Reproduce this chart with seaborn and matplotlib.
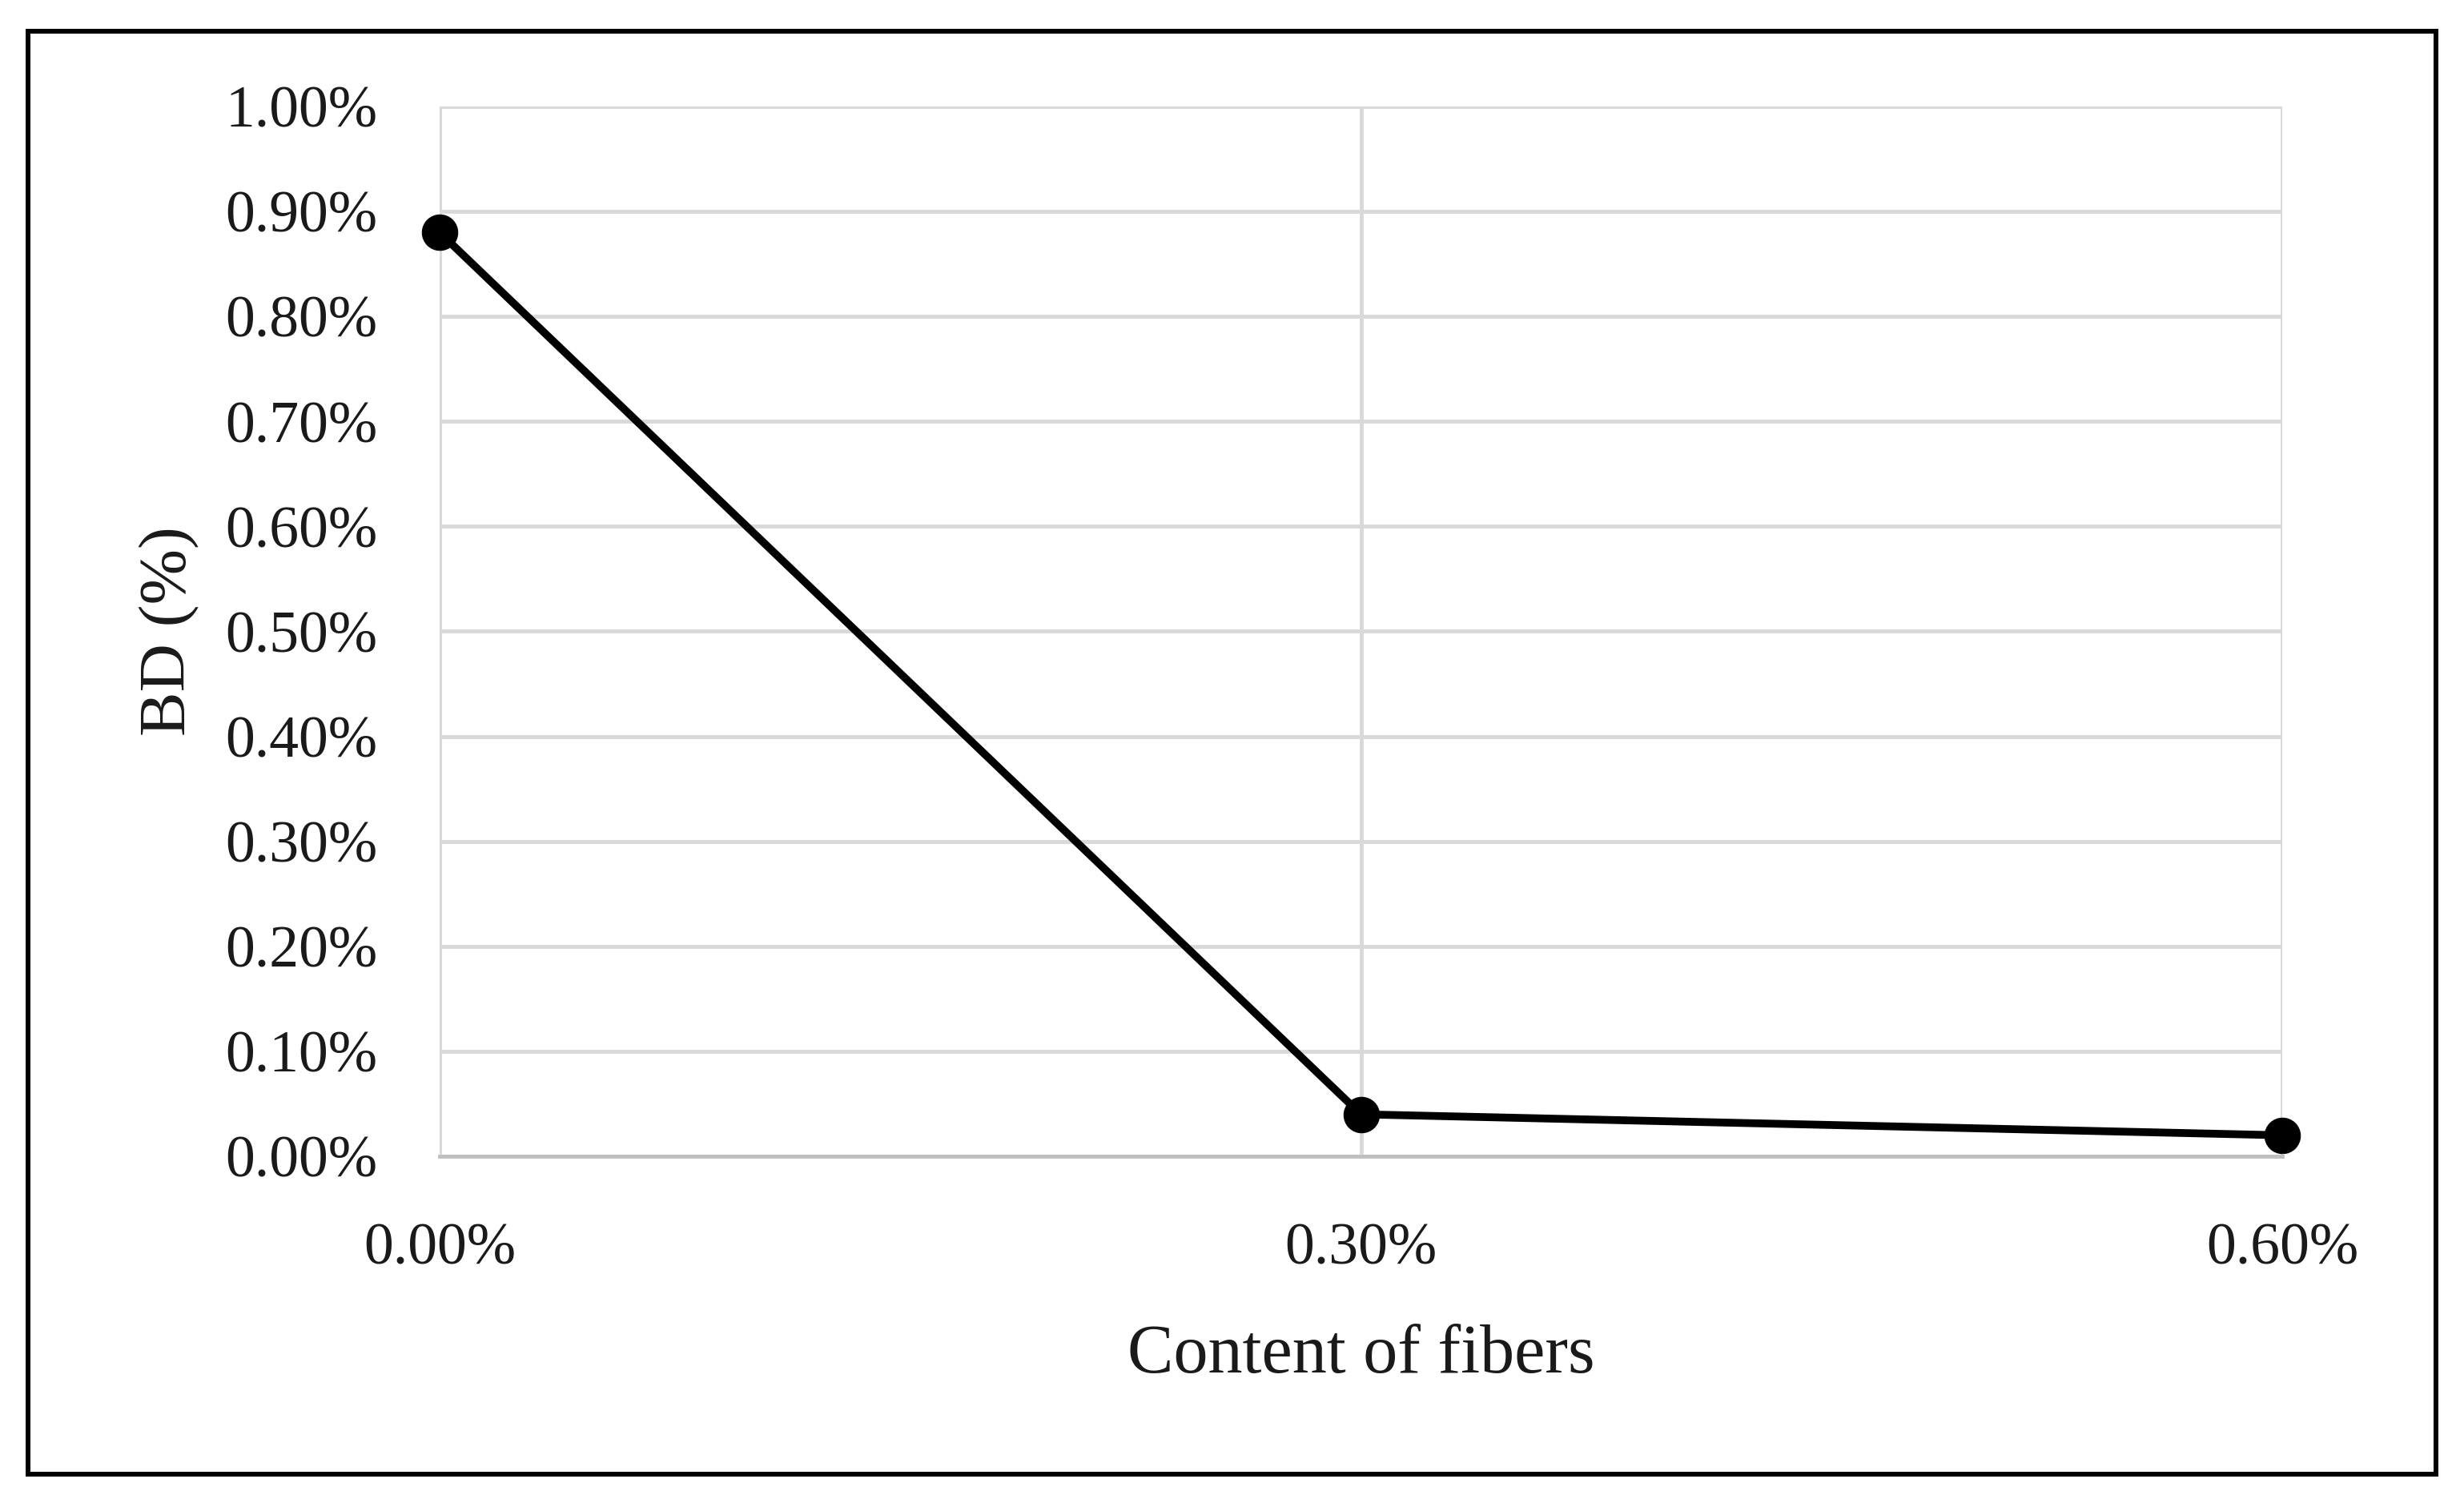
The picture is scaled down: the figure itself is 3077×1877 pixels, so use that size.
import matplotlib
matplotlib.use('Agg')
import matplotlib.pyplot as plt
from matplotlib.patches import Rectangle
import seaborn as sns
import numpy as np

# data
fiber_content = [0.0, 0.3, 0.6]
bd_values = [0.88, 0.04, 0.02]
x_tick_labels = ['0.00%', '0.30%', '0.60%']
y_ticks = [0.0, 0.1, 0.2, 0.3, 0.4, 0.5, 0.6, 0.7, 0.8, 0.9, 1.0]

sns.set_theme(style='white')
plt.rcParams['font.family'] = ['Liberation Serif', 'DejaVu Serif']

W, H = 3077, 1877
fig = plt.figure(figsize=(W / 100, H / 100), dpi=100)

# plot area in pixels: x 549..2850, y 133..1444
ax = fig.add_axes([549 / W, 1 - 1444 / H, (2850 - 549) / W, (1444 - 133) / H])

sns.lineplot(
    x=fiber_content, y=bd_values, ax=ax,
    color='black', lw=7, marker='o', markersize=32,
    markeredgecolor='black', clip_on=False, zorder=5
)

ax.set_xlim(0, 0.6)
ax.set_ylim(0, 1.0)
ax.set_xticks(fiber_content)
ax.set_xticklabels(x_tick_labels)
ax.set_yticks(y_ticks)
ax.set_yticklabels([f'{v:.2f}%' for v in y_ticks])

ax.grid(True, color='#d9d9d9', lw=3.5)
ax.set_axisbelow(True)
for side in ['top', 'right', 'left']:
    ax.spines[side].set_visible(False)
ax.spines['bottom'].set_color('#bfbfbf')
ax.spines['bottom'].set_linewidth(3.5)

ax.tick_params(axis='both', length=0, labelsize=53, colors='#1a1a1a')
ax.tick_params(axis='y', pad=56)
ax.tick_params(axis='x', pad=60)

ax.set_xlabel('Content of fibers', fontsize=62, color='#1a1a1a')
ax.set_ylabel('BD (%)', fontsize=60, color='#1a1a1a')
ax.xaxis.set_label_coords(0.5, -0.16)
ax.yaxis.set_label_coords(-0.13, 0.5)

# outer frame around the whole chart
fig.add_artist(Rectangle(
    (35 / W, 1 - 1841 / H), (3042 - 35) / W, (1841 - 39) / H,
    transform=fig.transFigure, fill=False, ec='black', lw=4.3
))

fig.savefig('out.png', dpi=100, facecolor='white')
